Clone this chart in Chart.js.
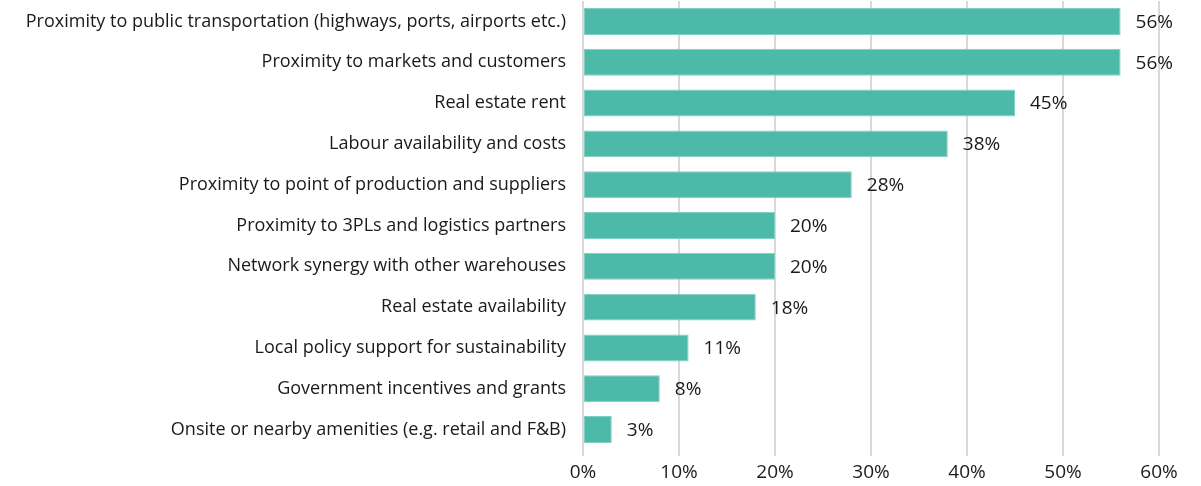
<!DOCTYPE html>
<html>
<head>
<meta charset="utf-8">
<script src="https://cdn.jsdelivr.net/npm/chart.js@4"></script>
<style>
  html, body { margin: 0; padding: 0; background: #fff; }
  #wrap { width: 1201px; height: 486px; }
</style>
</head>
<body>
<div id="wrap"><canvas id="chart"></canvas></div>
<script>
// categories, top to bottom
const factors = [
    "Proximity to public transportation (highways, ports, airports etc.)",
    "Proximity to markets and customers",
    "Real estate rent",
    "Labour availability and costs",
    "Proximity to point of production and suppliers",
    "Proximity to 3PLs and logistics partners",
    "Network synergy with other warehouses",
    "Real estate availability",
    "Local policy support for sustainability",
    "Government incentives and grants",
    "Onsite or nearby amenities (e.g. retail and F&B)"
];
const shares = [56, 56, 45, 38, 28, 20, 20, 18, 11, 8, 3]; // percent
const xTicks = [0, 10, 20, 30, 40, 50, 60];

const fontFam = "'Open Sans', sans-serif";
const textCol = "#1a1a1a";

// value labels at the end of each bar
const barLabels = {
    id: 'barLabels',
    afterDatasetsDraw(chart) {
        const ctx = chart.ctx;
        const meta = chart.getDatasetMeta(0);
        ctx.save();
        ctx.font = "19px " + fontFam;
        ctx.fillStyle = textCol;
        ctx.textAlign = 'left';
        ctx.textBaseline = 'middle';
        meta.data.forEach((bar, i) => {
            ctx.fillText(shares[i] + '%', bar.x + 15, bar.y + 1);
        });
        ctx.restore();
    }
};

chart = new Chart(document.getElementById('chart'), {
    type: 'bar',
    data: {
        labels: factors,
        datasets: [{
            data: shares,
            backgroundColor: '#4db9a8',
            borderColor: '#7fd0c3',
            borderWidth: 1,
            borderSkipped: false,
            barPercentage: 0.66,
            categoryPercentage: 1
        }]
    },
    options: {
        indexAxis: 'y',
        responsive: true,
        maintainAspectRatio: false,
        animation: false,
        layout: { padding: { top: 1, right: 42, bottom: 0, left: 0 } },
        plugins: {
            legend: { display: false },
            tooltip: { enabled: false }
        },
        scales: {
            x: {
                min: 0,
                max: 60,
                afterBuildTicks: (scale) => { scale.ticks = xTicks.map(v => ({ value: v })); },
                afterFit: (scale) => {
                    scale.height = 36;
                    scale.paddingLeft = 0;
                    scale.paddingRight = 0;
                },
                grid: { color: '#d9d9d9', lineWidth: 2, tickLength: 6 },
                border: { display: false },
                ticks: {
                    color: textCol,
                    font: { family: fontFam, size: 19 },
                    padding: 5,
                    maxRotation: 0,
                    callback: (v) => v + '%'
                }
            },
            y: {
                afterFit: (scale) => {
                    scale.width = 583;
                    scale.paddingTop = 0;
                    scale.paddingBottom = 0;
                },
                grid: { display: false, drawTicks: false },
                border: { display: false },
                ticks: {
                    color: textCol,
                    font: { family: fontFam, size: 18 },
                    padding: 17,
                    autoSkip: false
                }
            }
        }
    },
    plugins: [barLabels]
});
</script>
</body>
</html>
